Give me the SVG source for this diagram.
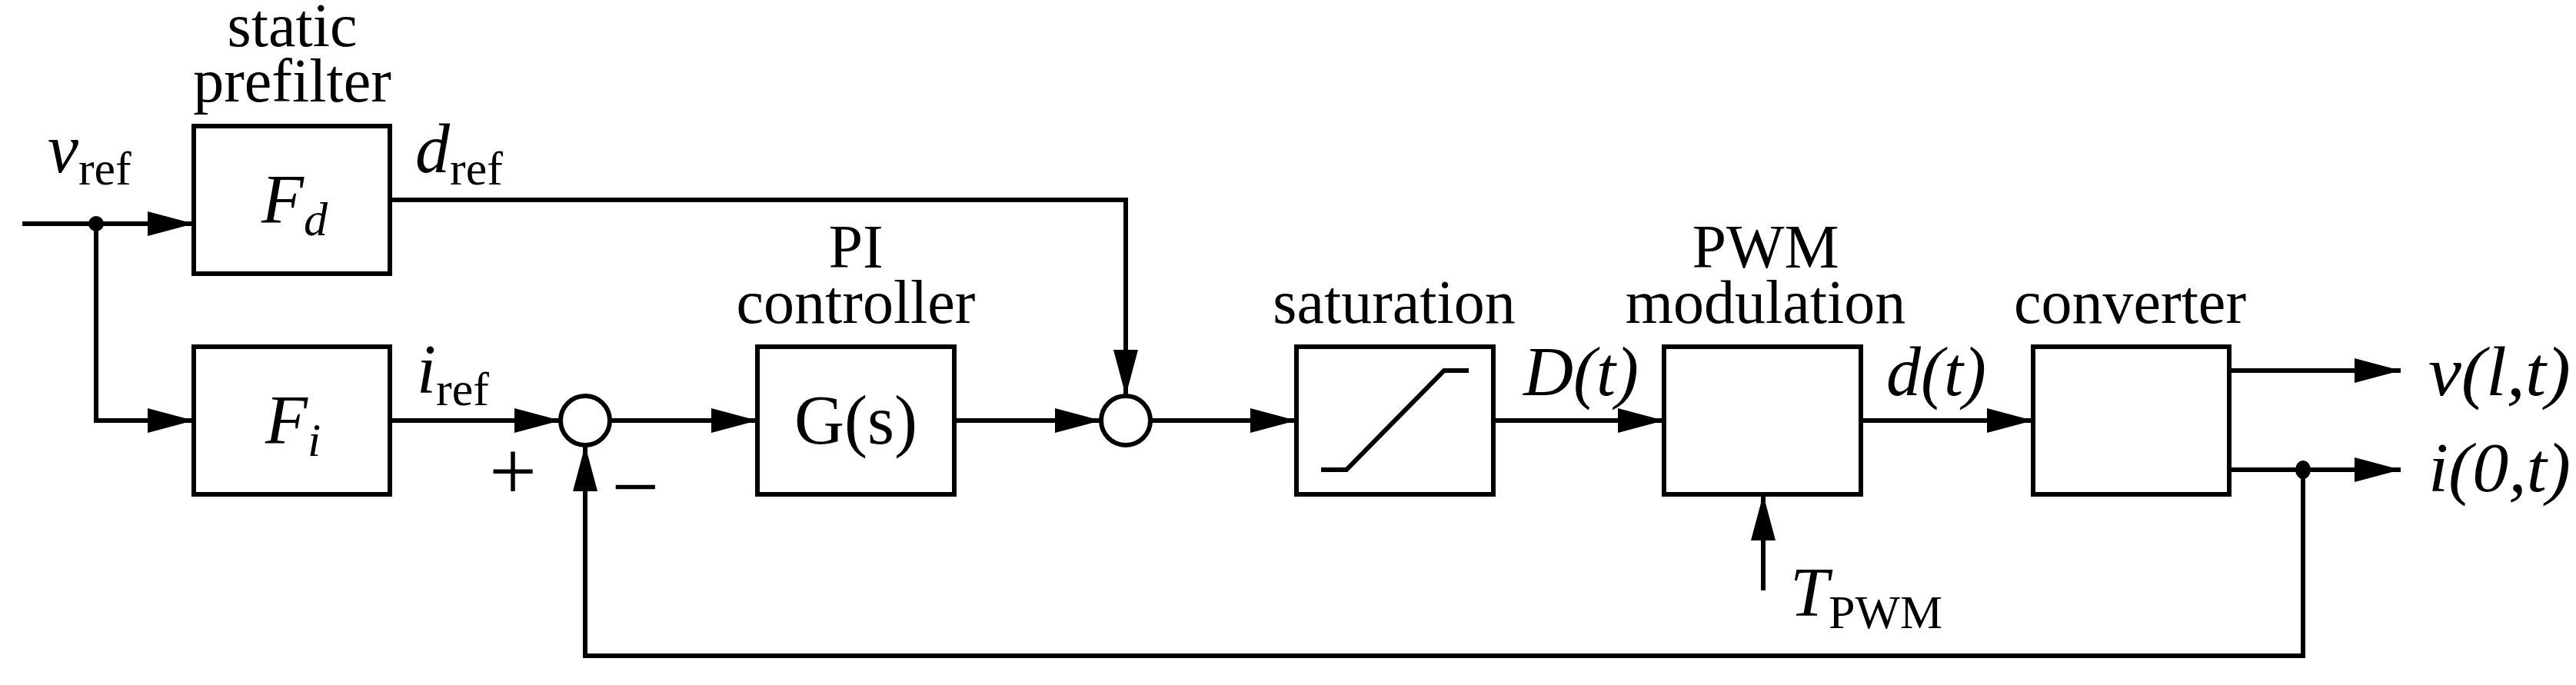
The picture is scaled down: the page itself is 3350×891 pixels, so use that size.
<svg xmlns="http://www.w3.org/2000/svg" width="3350" height="891" viewBox="0 0 3350 891">
<style>
.b{fill:#fff;stroke:#000;stroke-width:6}
.l{fill:none;stroke:#000;stroke-width:6}
.t{font-family:"Liberation Serif",serif;font-size:80px;text-anchor:middle}
.m{font-family:"Liberation Serif",serif;font-size:90px;font-style:italic}
.s{font-size:62px;font-style:normal}
</style>
<defs><marker id="a" markerUnits="userSpaceOnUse" markerWidth="60" markerHeight="32" refX="60" refY="16" orient="auto"><path d="M0,0L60,16L0,32Z"/></marker></defs>
<g id="connectors">
<path class="l" d="M29,291H252" marker-end="url(#a)"/>
<path class="l" d="M125,291V547H252" marker-end="url(#a)"/>
<path class="l" d="M507,260H1464V515" marker-end="url(#a)"/>
<path class="l" d="M507,547H729" marker-end="url(#a)"/>
<path class="l" d="M793,547H985" marker-end="url(#a)"/>
<path class="l" d="M1241,547H1432" marker-end="url(#a)"/>
<path class="l" d="M1496,547H1686" marker-end="url(#a)"/>
<path class="l" d="M1942,547H2164" marker-end="url(#a)"/>
<path class="l" d="M2420,547H2644" marker-end="url(#a)"/>
<path class="l" d="M2899,482H3122" marker-end="url(#a)"/>
<path class="l" d="M2899,611H3122" marker-end="url(#a)"/>
<path class="l" d="M2293,768V643" marker-end="url(#a)"/>
<path class="l" d="M2995,611V853H761V579" marker-end="url(#a)"/>
<circle cx="125" cy="291" r="10"/>
<ellipse cx="2995" cy="611" rx="10" ry="12"/>
</g>
<g id="Fd"><rect class="b" x="252" y="164" width="255" height="192"/><text class="t" x="380" y="60">static</text><text class="t" x="380" y="132">prefilter</text><text class="m" x="340" y="290">F<tspan class="s" style="font-style:italic" dy="16">d</tspan></text></g>
<g id="Fi"><rect class="b" x="252" y="451" width="255" height="192"/><text class="m" x="345" y="577">F<tspan class="s" style="font-style:italic" dy="16">i</tspan></text></g>
<g id="sum1"><circle class="b" cx="761" cy="547" r="32"/><text class="t" x="667" y="650" style="font-size:110px">+</text><text class="t" x="826" y="670" style="font-size:110px">−</text></g>
<g id="G"><rect class="b" x="985" y="451" width="256" height="192"/><text class="t" x="1113" y="348">PI</text><text class="t" x="1113" y="420">controller</text><text class="t" x="1113" y="577" style="font-size:90px">G(s)</text></g>
<g id="sum2"><circle class="b" cx="1464" cy="547" r="32"/></g>
<g id="sat"><rect class="b" x="1686" y="451" width="256" height="192"/><text class="t" x="1813" y="420">saturation</text><path class="l" d="M1718,611H1751L1878,482H1910"/></g>
<g id="pwm"><rect class="b" x="2164" y="451" width="256" height="192"/><text class="t" x="2296" y="348">PWM</text><text class="t" x="2296" y="420">modulation</text></g>
<g id="conv"><rect class="b" x="2644" y="451" width="255" height="192"/><text class="t" x="2770" y="420">converter</text></g>
<g id="labels">
<text class="m" x="62" y="224">v<tspan class="s" dy="16">ref</tspan></text>
<text class="m" x="540" y="224">d<tspan class="s" dy="16">ref</tspan></text>
<text class="m" x="542" y="511">i<tspan class="s" dy="16">ref</tspan></text>
<text class="m" x="1981" y="514">D(t)</text>
<text class="m" x="2453" y="514">d(t)</text>
<text class="m" x="3158" y="514" textLength="185" lengthAdjust="spacingAndGlyphs">v(l,t)</text>
<text class="m" x="3158" y="639" textLength="185" lengthAdjust="spacingAndGlyphs">i(0,t)</text>
<text class="m" x="2328" y="801">T<tspan class="s" dy="16">PWM</tspan></text>
</g>
</svg>
